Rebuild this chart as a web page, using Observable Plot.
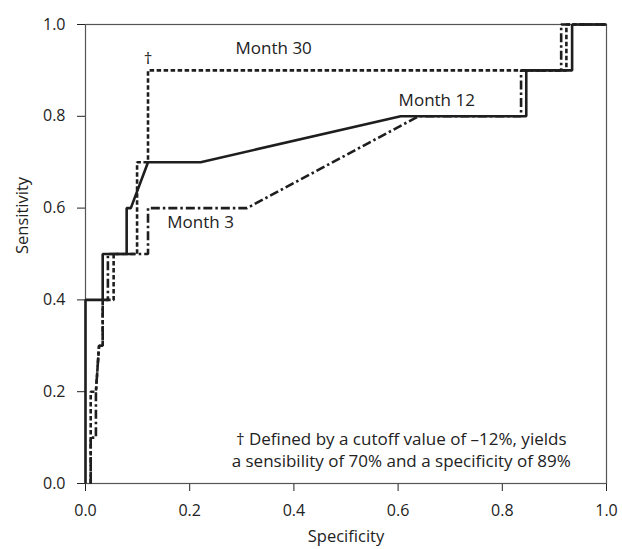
<!DOCTYPE html>
<html><head><meta charset="utf-8">
<script src="https://cdn.jsdelivr.net/npm/d3@7"></script>
<script src="https://cdn.jsdelivr.net/npm/@observablehq/plot@0.6"></script>
<style>
body{margin:0;background:#fff;}
#chart svg{display:block;}
</style>
</head><body><div id="chart"></div>
<script>
// Month 12 (solid)
const month12X = [0, 0, 0.033, 0.033, 0.079, 0.079, 0.087, 0.12, 0.221, 0.605, 0.846, 0.846, 0.934, 0.934, 1];
const month12Y = [0, 0.4, 0.4, 0.5, 0.5, 0.6, 0.6, 0.7, 0.7, 0.8, 0.8, 0.9, 0.9, 1.0, 1.0];
// Month 3 (dash-dot)
const month3X = [0.01, 0.01, 0.02, 0.02, 0.026, 0.033, 0.033, 0.043, 0.043, 0.12, 0.12, 0.31, 0.639, 0.836, 0.836, 0.913, 0.913, 1];
const month3Y = [0, 0.1, 0.1, 0.2, 0.3, 0.3, 0.4, 0.4, 0.5, 0.5, 0.6, 0.6, 0.8, 0.8, 0.9, 0.9, 1.0, 1.0];
// Month 30 (dashed)
const month30X = [0.01, 0.01, 0.02, 0.026, 0.033, 0.033, 0.054, 0.054, 0.099, 0.099, 0.12, 0.12, 0.923, 0.923, 1];
const month30Y = [0, 0.2, 0.2, 0.3, 0.3, 0.4, 0.4, 0.5, 0.5, 0.7, 0.7, 0.9, 0.9, 1.0, 1.0];

const seriesNames = ["Month 30", "Month 3", "Month 12"];
const seriesDash = ["4.5,2.5", "9,3,2.5,3", null];

const labelText = ["Month 30", "Month 12", "Month 3"];
const labelX = [0.288, 0.601, 0.157];
const labelY = [0.947, 0.834, 0.569];
const daggerText = "†";
const daggerX = 0.12, daggerY = 0.925;

const footnote = "† Defined by a cutoff value of \u201312%, yields\na sensibility of 70% and a specificity of 89%";
const footX = 0.606, footY = 0.076;

const xTitle = "Specificity";
const yTitle = "Sensitivity";
const xTicks = [0, 0.2, 0.4, 0.6, 0.8, 1.0];
const yTicks = [0, 0.2, 0.4, 0.6, 0.8, 1.0];

const toRows = (xs, ys) => xs.map((x, i) => ({x, y: ys[i]}));
const seriesData = [toRows(month30X, month30Y), toRows(month3X, month3Y), toRows(month12X, month12Y)];
const labels = labelText.map((t, i) => ({t, x: labelX[i], y: labelY[i]}));

const ink = "#1e1e1e";
const txt = "#222";
const chart = Plot.plot({
  width: 622, height: 549,
  marginLeft: 85, marginRight: 16, marginTop: 24, marginBottom: 66,
  style: {fontFamily: "'Open Sans', sans-serif", fontSize: "16px", color: txt, background: "#fff"},
  x: {domain: [0, 1], ticks: xTicks, tickFormat: d3.format(".1f"), label: null, tickSize: 8, tickPadding: 13},
  y: {domain: [0, 1], ticks: yTicks, tickFormat: d3.format(".1f"), label: null, tickSize: 8, tickPadding: 12},
  marks: [
    Plot.frame({stroke: "#555", strokeWidth: 1.2}),
    ...seriesData.map((rows, i) => Plot.line(rows, {x: "x", y: "y", stroke: ink, strokeWidth: 2.6, strokeDasharray: seriesDash[i], strokeLinejoin: "miter", strokeLinecap: "butt"})),
    Plot.text(labels, {x: "x", y: "y", text: "t", textAnchor: "start", fill: txt, fontSize: 17}),
    Plot.text([daggerText], {x: () => daggerX, y: () => daggerY, text: d => d, textAnchor: "middle", fill: txt, fontSize: 17}),
    Plot.text([footnote], {x: () => footX, y: () => footY, text: d => d, textAnchor: "middle", lineHeight: 1.33, fill: txt, fontSize: 17}),
    Plot.text([xTitle], {frameAnchor: "bottom", dy: 58, text: d => d, fill: txt, fontSize: 16.5}),
    Plot.text([yTitle], {frameAnchor: "left", dx: -63, rotate: -90, text: d => d, fill: txt, fontSize: 16.5})
  ]
});
document.getElementById("chart").appendChild(chart);
</script>
</body></html>
